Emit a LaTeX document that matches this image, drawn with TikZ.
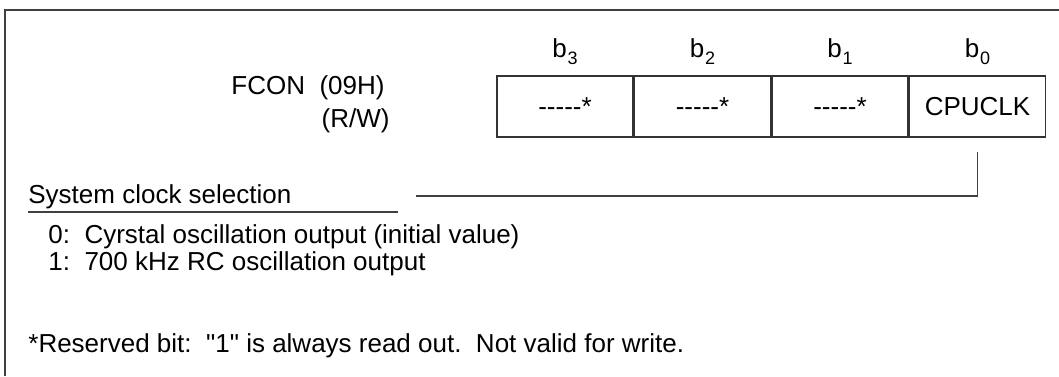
\documentclass[tikz,border=0pt]{standalone}
\usepackage{fontspec}
\setmainfont{Liberation Sans}[Ligatures=TeXOff]
\usetikzlibrary{positioning}
\newcommand{\rsvbit}{-{}-{}-{}-{}-*}
\newcommand{\bitno}[1]{b\kern0.5pt\raisebox{-3.5pt}{\fontsize{9}{9}\selectfont #1}}
\tikzset{
  regfont/.style={font=\fontsize{13}{15}\selectfont},
  regcell/.style={regfont, draw=black!80, line width=0.75pt, minimum width=68pt, minimum height=30.5pt, inner sep=0pt},
  bitlabel/.style={regfont, inner sep=0pt},
  txt/.style={regfont, inner sep=0pt, anchor=base west},
  conn/.style={draw=black!75, line width=0.75pt},
}

\begin{document}
\begin{tikzpicture}[x=0.5pt, y=-0.5pt]
  \useasboundingbox (0,0) rectangle (1059,376);
  \draw[conn] (5,376) -- (5,10) -- (1059,10);
  \node[txt, anchor=base east] (fcon) at (385,94) {FCON\ \ (09H)};
  \node[txt, anchor=base east] (rw) at (390,127) {(R/W)};
  \node[regcell] (c3) at (565,106.5) {\rsvbit};
  \node[regcell, right=0pt of c3] (c2) {\rsvbit};
  \node[regcell, right=0pt of c2] (c1) {\rsvbit};
  \node[regcell, right=0pt of c1] (c0) {CPUCLK};
  \node[bitlabel, above=5pt of c3] (b3) {\bitno{3}};
  \node[bitlabel, above=5pt of c2] (b2) {\bitno{2}};
  \node[bitlabel, above=5pt of c1] (b1) {\bitno{1}};
  \node[bitlabel, above=5pt of c0] (b0) {\bitno{0}};
  \node[txt] (sel) at (28,203) {System clock selection};
  \draw[conn] ([yshift=-4.5pt]sel.base west) -- ++(370,0);
  \coordinate (selend) at (416,196);
  \draw[conn] ([yshift=-7pt]c0.south) |- (selend);
  \node[txt] (opt0) at (48,243) {0:\ \ Cyrstal oscillation output (initial value)};
  \node[txt] (opt1) at (48,270) {1:\ \ 700 kHz RC oscillation output};
  \node[txt] (note) at (28,352) {*Reserved bit:\ \ "1" is always read out.\ \ Not valid for write.};
\end{tikzpicture}
\end{document}
